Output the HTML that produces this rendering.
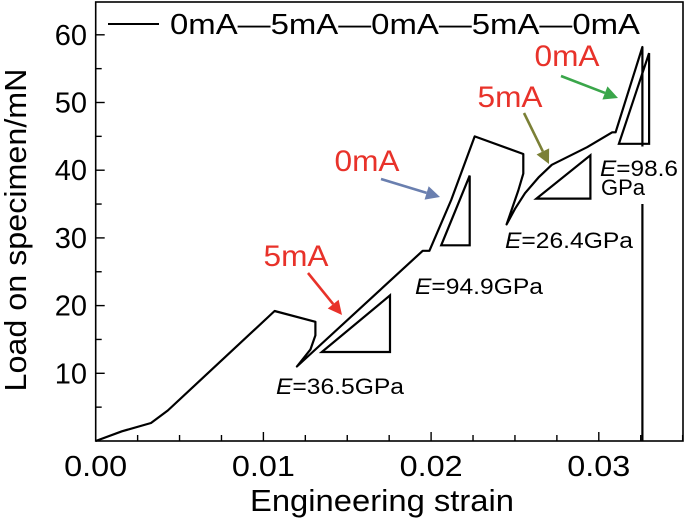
<!DOCTYPE html>
<html><head><meta charset="utf-8"><style>
html,body{margin:0;padding:0;background:#fff;}
svg{display:block;font-family:"Liberation Sans",sans-serif;}
</style></head><body>
<svg id="chart" width="700" height="519" viewBox="0 0 700 519"></svg>
<script>
// ---- data ----
const xTicks = [0, 0.01, 0.02, 0.03];
const xTickLabels = ["0.00", "0.01", "0.02", "0.03"];
const yTicks = [10, 20, 30, 40, 50, 60];
const yTickLabels = ["10", "20", "30", "40", "50", "60"];
const curveStrain = [0, 0.00156, 0.0033, 0.0043, 0.01067, 0.0131, 0.0131, 0.0128, 0.012, 0.0195, 0.0199, 0.0212, 0.0226, 0.0255, 0.0255, 0.0252, 0.0245, 0.0250, 0.0256, 0.0264, 0.0272, 0.0293, 0.0308, 0.031, 0.0326, 0.0326];
const curveLoad   = [0, 1.43, 2.66, 4.5, 19.2, 17.6, 15.6, 13.5, 11.0, 28.1, 28.1, 35.6, 45.0, 42.4, 39.5, 37.0, 32.0, 34.3, 36.6, 38.9, 40.8, 43.4, 45.6, 45.6, 58.2, 43.5];
const tri1 = [[0.01348,13.15],[0.01755,13.15],[0.01755,21.5]];
const tri2 = [[0.0206,28.9],[0.0223,28.9],[0.0223,39.2]];
const tri3 = [[0.02628,35.8],[0.0295,35.8],[0.0295,42.2]];
const tri4 = [[0.0312,43.9],[0.033,43.9],[0.033,57.3]];
const dropStrain = [0.0326, 0.0326];
const dropLoad = [35.0, 0];

// ---- axes ----
const X0=95.7, XS=16770, Y0=441, YS=6.77;
const sx = v => X0 + v*XS;
const sy = v => Y0 - v*YS;
const svg = document.getElementById('chart');
const NS = 'http://www.w3.org/2000/svg';
function mk(tag, attrs, text){
  const e = document.createElementNS(NS, tag);
  for (const k in attrs) e.setAttribute(k, attrs[k]);
  if (text!==undefined) e.textContent = text;
  svg.appendChild(e);
  return e;
}
let e;
e = mk('rect',{x:95.7,y:2,width:587.3,height:439,fill:'none',stroke:'#000','stroke-width':1.6});


for (let i=0;i<=14;i++){
  const v=i*0.0025, major=(i%4===0);
  e = mk('line',{x1:sx(v),x2:sx(v),y1:Y0,y2:Y0-(major?9:6),stroke:'#000','stroke-width':1.4});
  
  
}
for (let i=1;i<=12;i++){
  const v=i*5, major=(i%2===0);
  e = mk('line',{x1:X0,x2:X0+(major?9:6),y1:sy(v),y2:sy(v),stroke:'#000','stroke-width':1.4});
  
  
}
xTicks.forEach((v,i)=>{
  e = mk('text',{x:sx(v),y:476,'font-size':29,'text-anchor':'middle',textLength:63,lengthAdjust:'spacingAndGlyphs'},xTickLabels[i]);
  
  
});
yTicks.forEach((v,i)=>{
  e = mk('text',{x:87,y:sy(v)+10,'font-size':29,'text-anchor':'end'},yTickLabels[i]);
  
  
});
e = mk('text',{x:382,y:511,'font-size':31,'text-anchor':'middle',textLength:264,lengthAdjust:'spacingAndGlyphs'},'Engineering strain');


e = mk('text',{x:0,y:0,'font-size':31,'text-anchor':'middle',textLength:323,lengthAdjust:'spacingAndGlyphs',transform:'translate(26,230) rotate(-90)'},'Load on specimen/mN');



let d = curveStrain.map((v,i)=>(i?'L':'M')+sx(v).toFixed(1)+','+sy(curveLoad[i]).toFixed(1)).join(' ');
e = mk('path',{d:d,fill:'none',stroke:'#000','stroke-width':2.2,'stroke-linejoin':'round'});


e = mk('line',{x1:sx(dropStrain[0]),x2:sx(dropStrain[1]),y1:sy(dropLoad[0]),y2:sy(dropLoad[1]),stroke:'#000','stroke-width':2.2});


[tri1,tri2,tri3,tri4].forEach((t,i)=>{
  e = mk('polygon',{points:t.map(p=>sx(p[0]).toFixed(1)+','+sy(p[1]).toFixed(1)).join(' '),fill:'none',stroke:'#000','stroke-width':2.2});
  
  
});

const arrows=[[308,273,342,315,'#e8322a'],[381,179,440,197,'#6a7faf'],[524,113,549,164,'#7b8036'],[561,76,618,98,'#3aa64a']];
arrows.forEach((a,i)=>{
  const [x1,y1,x2,y2,c]=a, ang=Math.atan2(y2-y1,x2-x1), L=14, W=7;
  const bx=x2-L*Math.cos(ang), by=y2-L*Math.sin(ang);
  e = mk('line',{x1:x1,y1:y1,x2:bx,y2:by,stroke:c,'stroke-width':2.6});
  
  
  const px=-Math.sin(ang)*W, py=Math.cos(ang)*W;
  e = mk('polygon',{points:`${x2},${y2} ${bx+px},${by+py} ${bx-px},${by-py}`,fill:c});
  
  
});
const curLabels=[[296,266,'5mA'],[367,171,'0mA'],[510,107,'5mA'],[567,66,'0mA']];
curLabels.forEach((l,i)=>{
  e = mk('text',{x:l[0],y:l[1],'font-size':30,'text-anchor':'middle',fill:'#e8322a',textLength:65,lengthAdjust:'spacingAndGlyphs'},l[2]);
  
  
});
const eLabels=[[276,394,'36.5GPa',128],[415,294,'94.9GPa',128],[505,248,'26.4GPa',128],[600,176,'98.6',78]];
eLabels.forEach((l,i)=>{
  e = mk('text',{x:l[0],y:l[1],'font-size':22,textLength:l[3],lengthAdjust:'spacingAndGlyphs'},'');
  
  
  const t1=document.createElementNS(NS,'tspan'); t1.setAttribute('font-style','italic'); t1.textContent='E'; e.appendChild(t1);
  const t2=document.createElementNS(NS,'tspan'); t2.textContent='='+l[2]; e.appendChild(t2);
});
e = mk('text',{x:601,y:195,'font-size':22},'GPa');



e = mk('line',{x1:108,x2:159,y1:24,y2:24,stroke:'#000','stroke-width':2});


e = mk('text',{x:170,y:34,'font-size':29,textLength:470,lengthAdjust:'spacingAndGlyphs'},'0mA—5mA—0mA—5mA—0mA');


</script>
</body></html>
